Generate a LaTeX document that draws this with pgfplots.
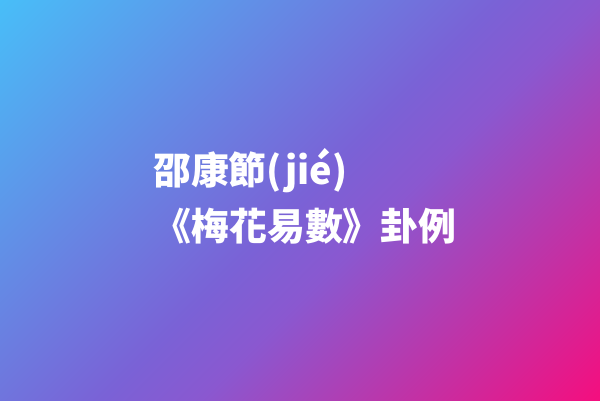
\documentclass[border=0pt]{standalone}
\usepackage{pgfplots}
\pgfplotsset{compat=1.18}
\usepackage{fontspec}
\newfontfamily\cjk{Noto Sans CJK TC}
\definecolor{g0}{HTML}{48BEF8}
\definecolor{g1}{HTML}{7A62D6}
\definecolor{g2}{HTML}{8A58D0}
\definecolor{g3}{HTML}{F50E7E}
% diagonal background: 45 deg gradient across a 600x400 box (gradient line 707bp)
\pgfdeclarehorizontalshading{bgshade}{760bp}{color(0bp)=(g0); color(26.45bp)=(g0);
  color(380bp)=(g1); color(450.7bp)=(g2); color(733.55bp)=(g3); color(760bp)=(g3)}

\begin{document}
\begin{tikzpicture}
  \begin{axis}[
      width=600bp, height=400bp,
      scale only axis,
      hide axis,
      xmin=0, xmax=600,
      ymin=0, ymax=400,
    ]
    \begin{scope}
      \clip (axis cs:0,0) rectangle (axis cs:600,400);
      \node[inner sep=0pt, outer sep=0pt, rotate=-45] at (axis cs:300,200) {\pgfuseshading{bgshade}};
    \end{scope}
    % title text
    \node[anchor=base west, inner sep=0pt, text=white,
          font=\cjk\bfseries\fontsize{38}{44}\selectfont] at (axis cs:153,216) {邵康節(jié)};
    \node[anchor=base west, inner sep=0pt, text=white,
          font=\cjk\bfseries\fontsize{38}{44}\selectfont] at (axis cs:153.5,159.4) {《梅花易數》卦例};
  \end{axis}
\end{tikzpicture}
\end{document}
